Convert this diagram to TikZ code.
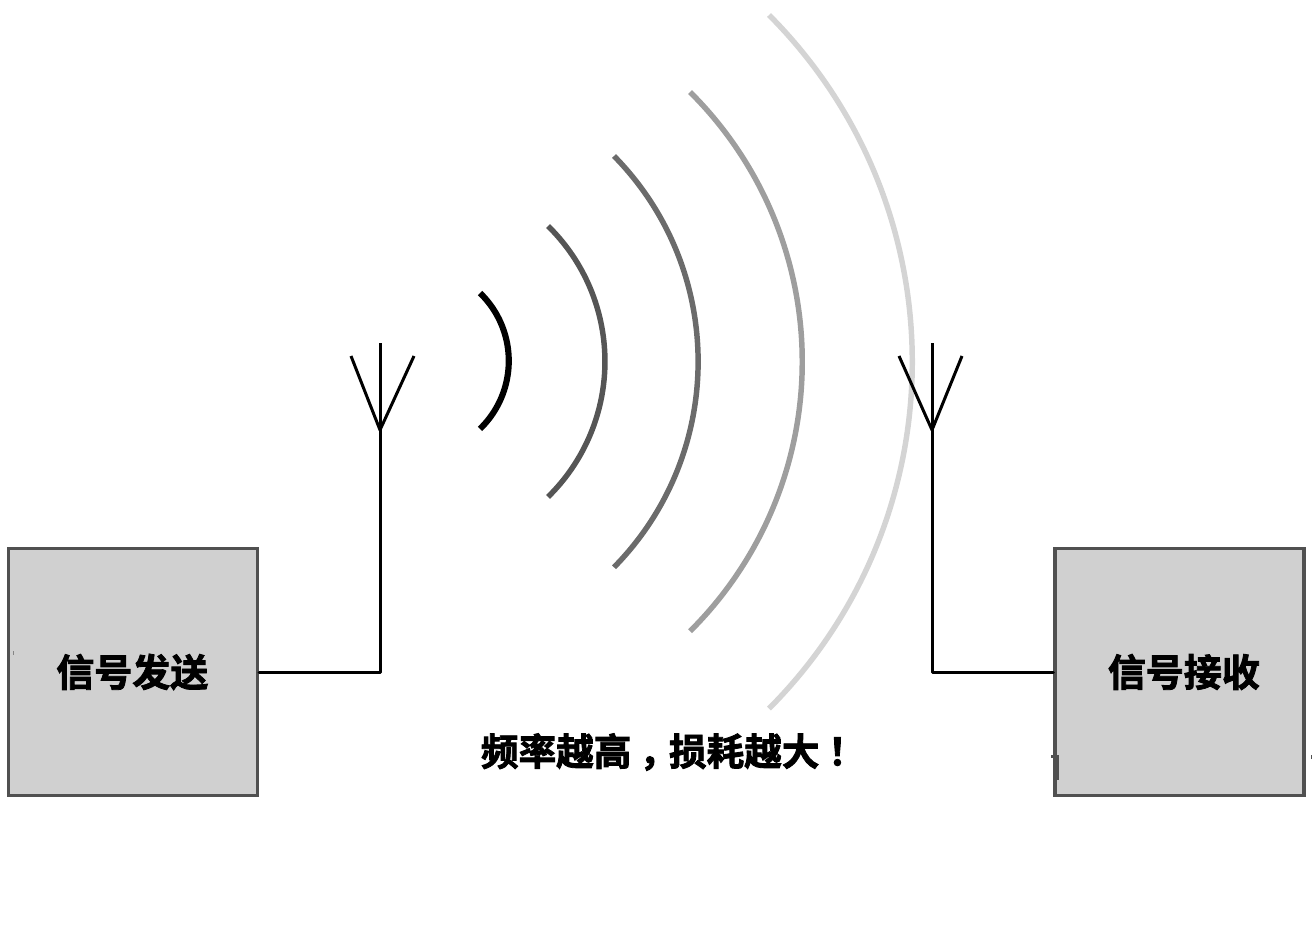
\documentclass[tikz,border=0pt]{standalone}
\usepackage{fontspec}
\newfontfamily\cjk{Noto Sans CJK SC}[BoldFont={Noto Sans CJK SC Bold},BoldFeatures={FakeBold=2.2}]
\definecolor{boxfill}{HTML}{D0D0D0}
\definecolor{boxedge}{HTML}{505050}
\tikzset{
  x=0.75pt,y=0.75pt,
  boxnode/.style={draw=boxedge,fill=boxfill,line width=2.6pt,minimum width=186.5pt,minimum height=185.5pt,inner sep=0pt,font=\cjk\bfseries\fontsize{28.5pt}{30pt}\selectfont,text=black},
  wire/.style={draw=black,line width=2.25pt,line cap=round,line join=round},
  wave/.style={line width=#1,line cap=butt},
  caption/.style={font=\cjk\bfseries\fontsize{28.2pt}{30pt}\selectfont,inner sep=0pt}
}
\begin{document}
\begin{tikzpicture}
\useasboundingbox (0,0) rectangle (1312,-927);
% waves
\draw[wave=4.6pt,black] (480,-293) arc[start angle=45.9,end angle=-45.9,radius=94.6];
\draw[wave=4.1pt,color={rgb,255:red,85;green,85;blue,85}] (548,-226) arc[start angle=45.6,end angle=-45.6,radius=189.6];
\draw[wave=4.1pt,color={rgb,255:red,107;green,107;blue,107}] (614,-156) arc[start angle=44.5,end angle=-44.5,radius=293.4];
\draw[wave=4.1pt,color={rgb,255:red,158;green,158;blue,158}] (690,-92) arc[start angle=45.2,end angle=-45.2,radius=380];
\draw[wave=4.1pt,color={rgb,255:red,212;green,212;blue,212}] (769,-15) arc[start angle=44.9,end angle=-44.9,radius=491.3];
% boxes
\node[boxnode] (tx) at (133,-672) {\hspace*{-1pt}信号发送};
\node[boxnode] (rx) at (1179.5,-672) {\hspace*{6.5pt}信号接收};
% antennas
\coordinate (ta) at (380,-430);
\coordinate (tt) at (380,-343);
\coordinate (tl) at (351,-356);
\coordinate (tr) at (414,-356);
\coordinate (tc) at (380,-672);
\coordinate (ra) at (932,-430);
\coordinate (rt) at (932,-343);
\coordinate (rl) at (899,-356);
\coordinate (rr) at (962,-356);
\coordinate (rc) at (932,-672);
\draw[wire] (tx.east |- tc) -- (tc) -- (ta);
\draw[wire,line cap=butt] (tt) -- (ta);
\draw[wire,line cap=butt] (tl) -- (ta) -- (tr);
\draw[wire] (rx.west |- rc) -- (rc) -- (ra);
\draw[wire,line cap=butt] (rt) -- (ra);
\draw[wire,line cap=butt] (rl) -- (ra) -- (rr);
% caption
\node[caption] (cap) at (669,-752) {频率越高\kern6pt，\kern-6pt 损耗越大\kern6.5pt！\kern-6.5pt};
% stray marks
\fill[boxedge] (1056,-755) rectangle (1059,-780);
\fill[boxedge] (1051,-755) rectangle (1056,-758);
\fill[boxedge] (1310.5,-755) rectangle (1312,-759);
\fill[boxedge!70] (13,-651) rectangle (14,-655);
\end{tikzpicture}
\end{document}
